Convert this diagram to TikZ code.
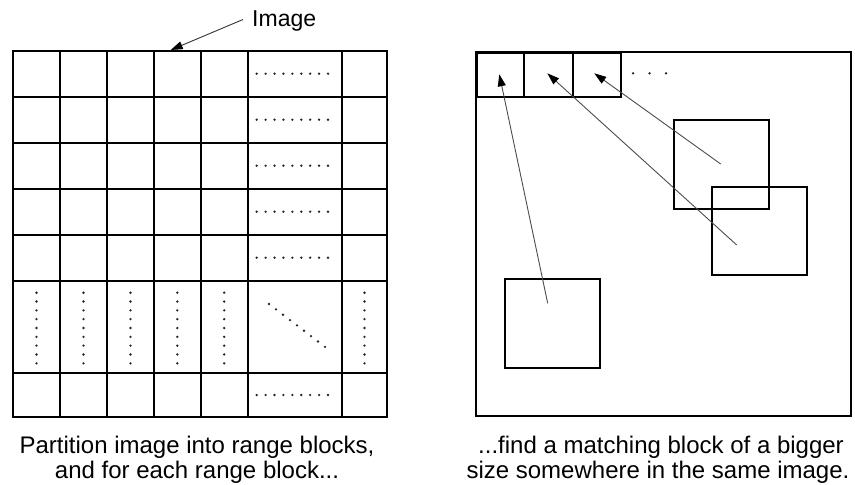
\documentclass[tikz,border=0pt]{standalone}
\usepackage{fontspec}
\setmainfont{Liberation Sans}
\usetikzlibrary{arrows.meta}
\begin{document}
\begin{tikzpicture}[x=1pt,y=-1pt,
  gridline/.style={line width=2pt, black},
  blk/.style={draw, line width=2pt, inner sep=0pt, anchor=north west},
  dotmark/.style={fill=black!85},
  matcharrow/.style={line width=0.9pt, black!70, -{Triangle[length=12pt,width=8pt,black]}},
  caption/.style={font=\fontsize{24}{25}\selectfont, inner sep=0pt, anchor=base},
  lbl/.style={font=\fontsize{23}{25}\selectfont, inner sep=0pt, anchor=base west}]
\useasboundingbox (0,0) rectangle (855,485);

% ---------- left: partitioned image ----------
\draw[gridline] (13,50.7) rectangle (387.3,417.3);
\foreach \x in {60,107,154,200.7,247.7,341.7}
  \draw[gridline] (\x,50.7) -- (\x,417.3);
\foreach \y in {96.7,142.7,188.7,234.7,280.7,372.7}
  \draw[gridline] (13,\y) -- (387.3,\y);

% horizontal dots
\foreach \y in {73.7,119.7,165.7,211.7,257.7,395}
  \foreach \i in {0,...,8}
    \fill[dotmark] ({256.7+\i*8.9125},\y) circle[radius=1.3];
% vertical dots
\foreach \x in {36.5,83.5,130.5,177.3,224.2,364.5}
  \foreach \i in {0,...,8}
    \fill[dotmark] (\x,{292.7+\i*8.825}) circle[radius=1.3];
% diagonal dots
\foreach \i in {0,...,8}
  \fill[dotmark] ({269+\i*7.0},{304+\i*5.35}) circle[radius=1.3];

% label "Image"
\node[lbl] (imglabel) at (252,26) {Image};
\coordinate (imgfrom) at (243,19.5);
\coordinate (imgto) at (170.7,50);
\draw[line width=0.9pt, black!80, -{Triangle[length=12pt,width=8pt,black]}] (imgfrom) -- (imgto);

\node[caption] (capL1) at (197,453) {Partition image into range blocks,};
\node[caption] (capL2) at (197,478) {and for each range block...};

% ---------- right: matching blocks ----------
\draw[gridline] (476,52) rectangle (851,415.7);
\node[blk, minimum width=47.3pt, minimum height=44pt] (b1) at (476,52) {};
\node[blk, minimum width=49pt, minimum height=44pt] (b2) at (523.3,52) {};
\node[blk, minimum width=47.7pt, minimum height=44pt] (b3) at (572.3,52) {};
\foreach \x in {633,649.5,666}
  \fill[dotmark] (\x,73.3) circle[radius=1.3];

\node[blk, minimum width=94.4pt, minimum height=89pt] (sqA) at (673.3,119.3) {};
\node[blk, minimum width=94.7pt, minimum height=88.6pt] (sqB) at (711,185.7) {};
\node[blk, minimum width=94.7pt, minimum height=89pt] (sqC) at (504.3,278.3) {};

\coordinate (fromA) at (720.7,164);
\coordinate (fromB) at (736.7,245);
\coordinate (fromC) at (547.7,303.3);
\coordinate (toB3) at (594.3,73.3);
\coordinate (toB2) at (547.3,73.3);
\coordinate (toB1) at (499.3,74.3);
\draw[matcharrow] (fromA) -- (toB3);
\draw[matcharrow] (fromB) -- (toB2);
\draw[matcharrow] (fromC) -- (toB1);

\node[caption] (capR1) at (661,453) {...find a matching block of a bigger};
\node[caption] (capR2) at (658,478) {size somewhere in the same image.};
\end{tikzpicture}
\end{document}
